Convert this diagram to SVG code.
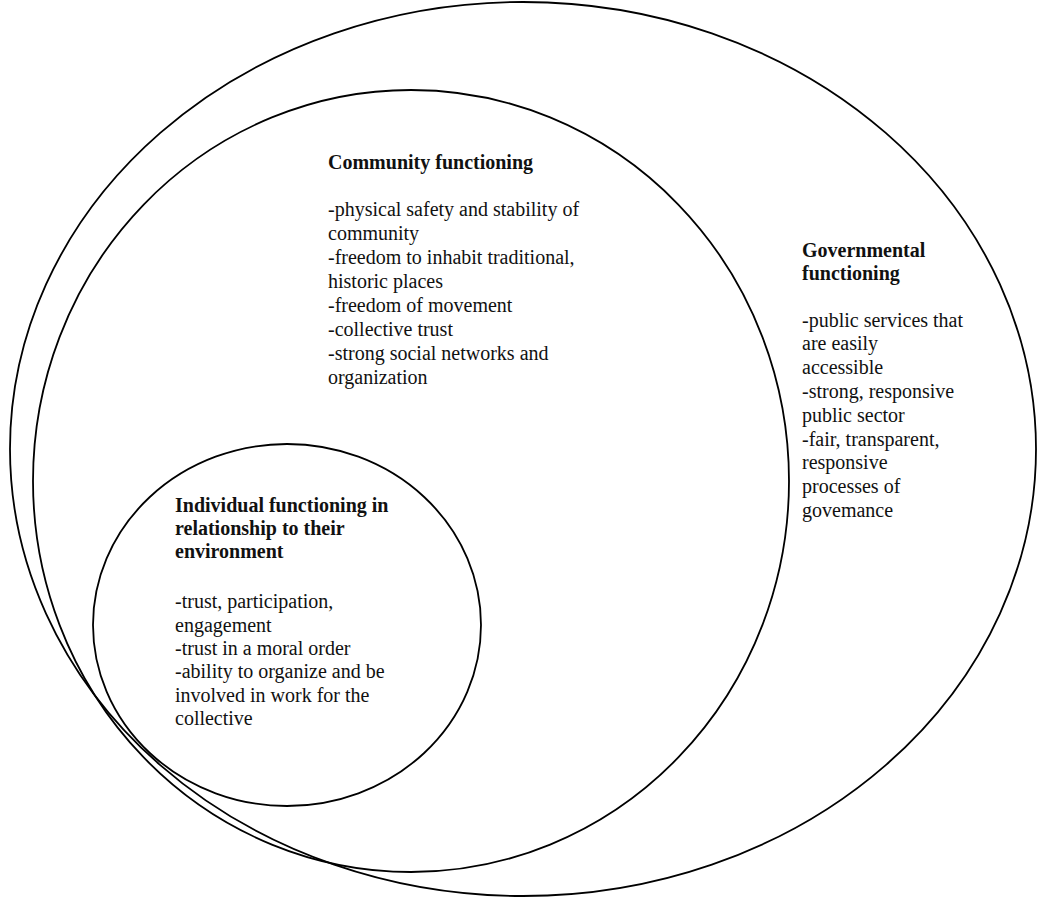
<svg xmlns="http://www.w3.org/2000/svg" width="1050" height="898" viewBox="0 0 1050 898">
<style>
.ring{fill:none;stroke:#000;stroke-width:1.8}
text{font-family:"Liberation Serif","Times New Roman",serif;font-size:20px;fill:#111}
.h{font-weight:bold}
</style>
<rect width="1050" height="898" fill="#fff"/>
<g id="governmental">
<ellipse class="ring" cx="523" cy="449" rx="513" ry="447"/>
<text x="802" y="257" class="h">Governmental</text>
<text x="802" y="280" class="h">functioning</text>
<text x="802" y="327">-public services that</text>
<text x="802" y="350">are easily</text>
<text x="802" y="374">accessible</text>
<text x="802" y="398">-strong, responsive</text>
<text x="802" y="422">public sector</text>
<text x="802" y="446">-fair, transparent,</text>
<text x="802" y="469">responsive</text>
<text x="802" y="493">processes of</text>
<text x="802" y="517">govemance</text>
</g>
<g id="community">
<ellipse class="ring" cx="411" cy="481" rx="378" ry="391"/>
<text x="328" y="169" class="h">Community functioning</text>
<text x="328" y="216">-physical safety and stability of</text>
<text x="328" y="240">community</text>
<text x="328" y="264">-freedom to inhabit traditional,</text>
<text x="328" y="288">historic places</text>
<text x="328" y="312">-freedom of movement</text>
<text x="328" y="336">-collective trust</text>
<text x="328" y="360">-strong social networks and</text>
<text x="328" y="384">organization</text>
</g>
<g id="individual">
<ellipse class="ring" cx="287" cy="625" rx="194" ry="181"/>
<text x="175" y="512" class="h">Individual functioning in</text>
<text x="175" y="535" class="h">relationship to their</text>
<text x="175" y="558" class="h">environment</text>
<text x="175" y="608">-trust, participation,</text>
<text x="175" y="632">engagement</text>
<text x="175" y="655">-trust in a moral order</text>
<text x="175" y="678">-ability to organize and be</text>
<text x="175" y="702">involved in work for the</text>
<text x="175" y="725">collective</text>
</g>
<g id="connectors"></g>
</svg>
